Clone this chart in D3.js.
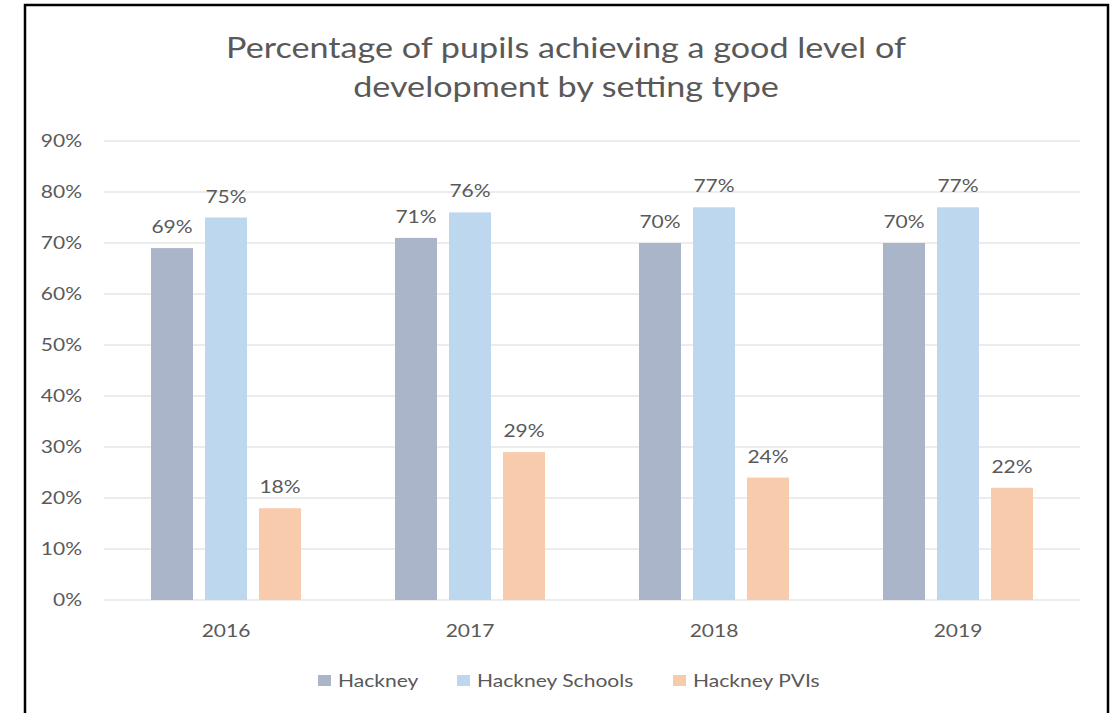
<!DOCTYPE html>
<html>
<head>
<meta charset="utf-8">
<script src="https://cdn.jsdelivr.net/npm/d3@7"></script>
<style>
  html, body { margin: 0; padding: 0; background: #fff; }
  svg { display: block; }
  text { font-family: Lato, "Open Sans", sans-serif; fill: #595959; }
</style>
</head>
<body>
<svg id="chart" width="1114" height="713"></svg>
<script>
// Chart data
const years = ["2016", "2017", "2018", "2019"];
const seriesNames = ["Hackney", "Hackney Schools", "Hackney PVIs"];
const hackney = [69, 71, 70, 70];
const hackneySchools = [75, 76, 77, 77];
const hackneyPVIs = [18, 29, 24, 22];
const yTicks = [0, 10, 20, 30, 40, 50, 60, 70, 80, 90];
const colors = ["#aab5c9", "#bdd7ee", "#f8cbad"];
const titleLines = ["Percentage of pupils achieving a good level of", "development by setting type"];

const seriesValues = [hackney, hackneySchools, hackneyPVIs];

const svg = d3.select("#chart");
const H = 713;
const plot = { left: 104, right: 1080, top: 141, bottom: 600 };
const STRETCH = 1.2; // wide lettering

// Frame around the chart
svg.append("rect")
  .attr("x", 25).attr("y", 5)
  .attr("width", 1083).attr("height", H + 10)
  .attr("fill", "none").attr("stroke", "#000").attr("stroke-width", 2.5);

// Title
svg.append("g").selectAll("text")
  .data(titleLines).join("text")
  .attr("transform", (d, i) => `translate(566,${58 + i * 39}) scale(1.22,1)`)
  .attr("text-anchor", "middle")
  .attr("font-size", 28)
  .text(d => d);

const x = d3.scaleBand().domain(years).range([plot.left, plot.right]);
const xInner = d3.scaleBand().domain(seriesNames).range([0, 150]).paddingInner(0.222);
const y = d3.scaleLinear().domain([0, 90]).range([plot.bottom, plot.top]);

// Gridlines
svg.append("g").selectAll("line")
  .data(yTicks).join("line")
  .attr("x1", plot.left).attr("x2", plot.right)
  .attr("y1", d => y(d)).attr("y2", d => y(d))
  .attr("stroke", "#d9d9d9").attr("stroke-width", 1);

// Y axis labels
const yAxis = d3.axisLeft(y).tickValues(yTicks).tickFormat(d => d + "%").tickSize(0).tickPadding(0);
const yg = svg.append("g").attr("transform", `translate(82,0)`).call(yAxis);
yg.select(".domain").remove();
yg.selectAll("text")
  .attr("font-size", 17.5).attr("font-family", "Lato, sans-serif").attr("fill", "#595959")
  .attr("transform", `scale(${STRETCH},1)`);

// X axis labels
const xAxis = d3.axisBottom(x).tickSize(0).tickPadding(0);
const xg = svg.append("g").attr("transform", `translate(0,${plot.bottom})`).call(xAxis);
xg.select(".domain").remove();
xg.selectAll("text")
  .attr("y", 37).attr("dy", null)
  .attr("font-size", 17.5).attr("font-family", "Lato, sans-serif").attr("fill", "#595959")
  .attr("transform", `scale(${STRETCH},1)`);

// Bars and value labels
const groups = svg.append("g").selectAll("g")
  .data(years).join("g")
  .attr("transform", d => `translate(${x(d) + (x.bandwidth() - 150) / 2},0)`);

seriesNames.forEach((name, si) => {
  groups.append("rect")
    .attr("x", xInner(name))
    .attr("width", xInner.bandwidth())
    .attr("y", (d, i) => y(seriesValues[si][i]))
    .attr("height", (d, i) => y(0) - y(seriesValues[si][i]))
    .attr("fill", colors[si]);
  groups.append("text")
    .attr("transform", (d, i) =>
      `translate(${xInner(name) + xInner.bandwidth() / 2},${y(seriesValues[si][i]) - 15}) scale(${STRETCH},1)`)
    .attr("text-anchor", "middle")
    .attr("font-size", 17.5)
    .text((d, i) => seriesValues[si][i] + "%");
});

// Legend
const legendX = [318, 457, 673];
const legend = svg.append("g").selectAll("g")
  .data(seriesNames).join("g")
  .attr("transform", (d, i) => `translate(${legendX[i]},675)`);
legend.append("rect")
  .attr("x", 0).attr("y", 0).attr("width", 13).attr("height", 11)
  .attr("fill", (d, i) => colors[i]);
legend.append("text")
  .attr("transform", `translate(20,12) scale(1.17,1)`)
  .attr("font-size", 18)
  .text(d => d);
</script>
</body>
</html>
